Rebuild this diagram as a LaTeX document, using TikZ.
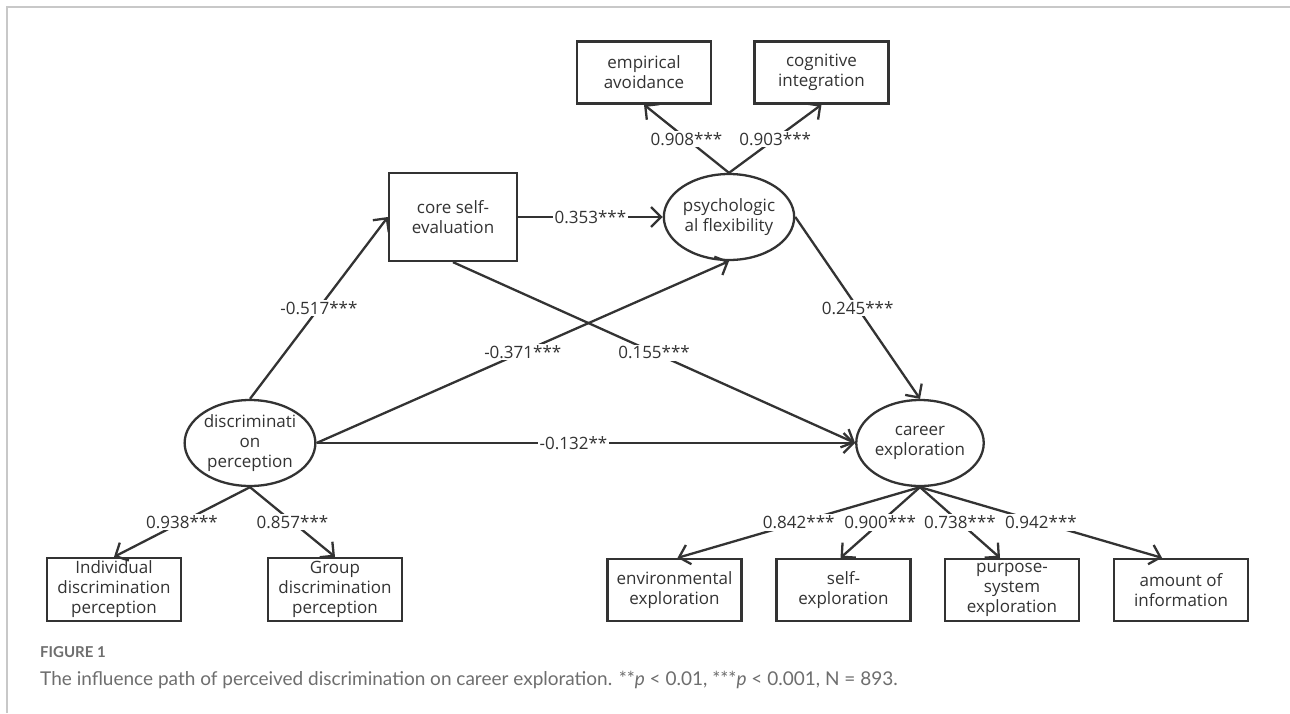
\documentclass[tikz,border=0pt]{standalone}
\usepackage{fontspec}
\setmainfont{Open Sans}
\newfontfamily\capfont{Lato}
\usetikzlibrary{arrows.meta,shapes.geometric}
\definecolor{ink}{HTML}{333333}
\definecolor{capgray}{HTML}{6E6E6E}
\definecolor{framegray}{HTML}{C8C8C8}
\tikzset{
  box/.style={draw=ink, line width=2.3pt, minimum width=134pt, minimum height=62pt, inner sep=0pt, align=center, text=ink, font=\fontsize{17}{20}\selectfont},
  lat/.style={ellipse, draw=ink, line width=2.3pt, minimum width=124pt, minimum height=86pt, inner sep=0pt, align=center, text=ink, font=\fontsize{17}{20}\selectfont},
  conn/.style={draw=ink, line width=2.3pt, -{Straight Barb[length=10pt,width=20pt]}},
  lab/.style={fill=white, inner sep=1.5pt, text=ink, font=\fontsize{17}{20}\selectfont},
}
\begin{document}
\begin{tikzpicture}[x=1pt,y=-1pt]
\useasboundingbox (0,0) rectangle (1290,713);
\fill[white] (0,0) rectangle (1290,713);
% frame
\coordinate (fl) at (7,713);
\coordinate (fc) at (7,7);
\coordinate (fr) at (1290,7);
\draw[framegray, line width=2pt] (fl) -- (fc) -- (fr);

% nodes
\node[box] (ea) at (644,72.5) {empirical\\avoidance};
\node[box] (ci) at (821.5,72.5) {cognitive\\integration};
\node[lat] (pf) at (729,217) {psychologic\\al flexibility};
\node[box, minimum width=128pt, minimum height=88pt] (cse) at (453,217) {core self-\\evaluation};
\node[lat] (dp) at (250,443) {discriminati\\on\\perception};
\node[lat] (ce) at (920,443) {career\\exploration};
\node[box, minimum height=63pt] (ind) at (114,589.5) {Individual\\discrimination\\perception};
\node[box, minimum height=63pt] (grp) at (335,589.5) {Group\\discrimination\\perception};
\node[box] (env) at (674.5,590) {environmental\\exploration};
\node[box] (slf) at (843.5,590) {self-\\exploration};
\node[box] (pse) at (1012,590) {purpose-\\system\\exploration};
\node[box] (amt) at (1181,590) {amount of\\information};

% connectors
\draw[conn] (pf.north) -- node[lab]{0.908***} (ea.south);
\draw[conn] (pf.north) -- node[lab]{0.903***} (ci.south);
\draw[conn] (cse.east) -- node[lab]{0.353***} (pf.west);
\draw[conn] (dp.north) -- node[lab]{-0.517***} (cse.west);
\draw[conn] (dp.east) -- node[lab]{-0.371***} (pf.south);
\draw[conn] (cse.south) -- node[lab]{0.155***} (ce.west);
\draw[conn] (dp.east) -- node[lab, pos=0.477]{-0.132**} (ce.west);
\draw[conn] (pf.east) -- node[lab]{0.245***} (ce.north);
\draw[conn] (dp.south) -- node[lab]{0.938***} (ind.north);
\draw[conn] (dp.south) -- node[lab]{0.857***} (grp.north);
\draw[conn] (ce.south) -- node[lab]{0.842***} ([xshift=3pt]env.north);
\draw[conn] (ce.south) -- node[lab]{0.900***} ([xshift=-3pt]slf.north);
\draw[conn] (ce.south) -- node[lab]{0.738***} ([xshift=-12pt]pse.north);
\draw[conn] (ce.south) -- node[lab]{0.942***} ([xshift=-19pt]amt.north);

% caption
\node[anchor=base west, inner sep=0pt, text=capgray, font=\capfont\bfseries\fontsize{15}{16}\selectfont] (fig) at (40,657) {FIGURE 1};
\node[anchor=base west, inner sep=0pt, text=capgray, font=\capfont\fontsize{19}{22}\selectfont] (cap) at (40,685) {The influence path of perceived discrimination on career exploration. **\textit{p} < 0.01, ***\textit{p} < 0.001, N = 893.};
\end{tikzpicture}
\end{document}
